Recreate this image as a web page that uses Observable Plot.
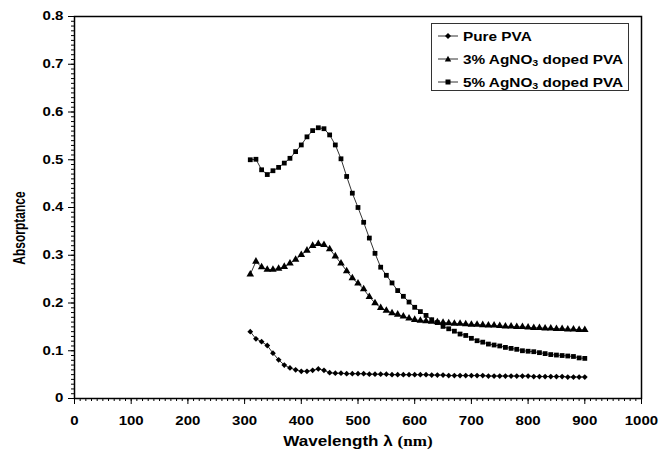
<!DOCTYPE html>
<html>
<head>
<meta charset="utf-8">
<script src="https://cdn.jsdelivr.net/npm/d3@7"></script>
<script src="https://cdn.jsdelivr.net/npm/@observablehq/plot@0.6"></script>
<style>
  html, body { margin: 0; padding: 0; background: #fff; }
  #wrap { position: relative; width: 662px; height: 455px; font-family: "Liberation Sans", Arial, sans-serif; color: #000; }
  #xtitle { position: absolute; left: 358px; top: 441px; font-size: 14px; font-weight: bold; white-space: nowrap;
            transform: translate(-50%, -50%) scaleX(1.22); }
  #xtitle .serif { font-family: "Liberation Serif", "Times New Roman", serif; }
  #ytitle { position: absolute; left: 19px; top: 228px; font-size: 12px; font-weight: bold; white-space: nowrap;
            transform: translate(-50%, -50%) rotate(-90deg) scaleY(1.45); }
  #legend { position: absolute; left: 431px; top: 23px; width: 198px; height: 68px; box-sizing: border-box;
            border: 1px solid #333; background: #fff; }
  .row { position: absolute; left: 5px; height: 20px; display: flex; align-items: center; }
  .row svg { display: block; }
  .row .lab { font-size: 13px; font-weight: bold; margin-left: 4px; transform: scaleX(1.18); transform-origin: left center; white-space: nowrap; }
  .row sub { font-size: 9px; vertical-align: -2px; line-height: 0; }
</style>
</head>
<body>
<div id="wrap"></div>
<script>
// ---- data ----
const wavelength = [310,320,330,340,350,360,370,380,390,400,410,420,430,440,450,460,470,480,490,500,
  510,520,530,540,550,560,570,580,590,600,610,620,630,640,650,660,670,680,690,700,
  710,720,730,740,750,760,770,780,790,800,810,820,830,840,850,860,870,880,890,900];

const purePVA = [0.140,0.125,0.119,0.111,0.095,0.081,0.070,0.064,0.060,0.057,0.057,0.059,0.062,0.059,0.054,0.053,0.053,0.052,0.052,0.052,
  0.052,0.051,0.051,0.051,0.051,0.050,0.050,0.050,0.050,0.050,0.050,0.050,0.049,0.049,0.049,0.048,0.048,0.048,0.048,0.048,
  0.048,0.048,0.047,0.047,0.047,0.047,0.047,0.047,0.047,0.047,0.046,0.046,0.046,0.046,0.046,0.046,0.045,0.045,0.045,0.045];

const agno3_3 = [0.260,0.287,0.275,0.270,0.270,0.272,0.276,0.283,0.291,0.301,0.310,0.320,0.324,0.322,0.313,0.298,0.283,0.267,0.252,0.241,
  0.229,0.213,0.200,0.190,0.184,0.179,0.176,0.172,0.168,0.165,0.163,0.162,0.161,0.160,0.159,0.158,0.157,0.157,0.156,0.155,
  0.155,0.154,0.153,0.153,0.152,0.151,0.151,0.150,0.150,0.149,0.148,0.148,0.147,0.147,0.146,0.146,0.145,0.145,0.144,0.144];

const agno3_5 = [0.500,0.501,0.479,0.469,0.477,0.484,0.493,0.503,0.517,0.531,0.548,0.561,0.567,0.565,0.552,0.531,0.502,0.465,0.430,0.400,
  0.369,0.336,0.304,0.275,0.258,0.242,0.226,0.214,0.202,0.191,0.182,0.174,0.165,0.159,0.151,0.146,0.141,0.135,0.132,0.126,
  0.121,0.118,0.114,0.112,0.110,0.107,0.105,0.103,0.100,0.099,0.098,0.096,0.094,0.092,0.091,0.090,0.089,0.088,0.085,0.084];

const seriesNames = ["Pure PVA", "3% AgNO3 doped PVA", "5% AgNO3 doped PVA"];
const seriesSymbols = ["diamond2", "triangle", "square"];
const xMajorTicks = [0,100,200,300,400,500,600,700,800,900,1000];
const yMajorTicks = [0,0.1,0.2,0.3,0.4,0.5,0.6,0.7,0.8];
const yTickLabels = ["0","0.1","0.2","0.3","0.4","0.5","0.6","0.7","0.8"];
const xTitle = "Wavelength λ ";
const xTitleUnit = "(nm)";
const yTitle = "Absorptance";

// ---- build table ----
const seriesValues = [purePVA, agno3_3, agno3_5];
const table = seriesValues.map((vals, si) => wavelength.map((w, i) => ({w, a: vals[i], s: seriesNames[si]})));
const xMinorTicks = d3.range(0, 1001, 10);
const yMinorTicks = d3.range(0, 81, 1).map(d => d / 100);

const marks = [
  Plot.axisX(xMinorTicks, {tickSize: 3, tickFormat: () => "", label: null}),
  Plot.axisX(xMajorTicks, {tickSize: 6, tickPadding: 12, tickFormat: d => String(d), label: null}),
  Plot.axisY(yMinorTicks, {tickSize: 3, tickFormat: () => "", label: null}),
  Plot.axisY(yMajorTicks, {tickSize: 6, tickPadding: 5, tickFormat: d => yTickLabels[yMajorTicks.indexOf(d)], label: null}),
  Plot.frame({stroke: "#000", strokeWidth: 1.5})
];
table.forEach((rows) => {
  marks.push(Plot.line(rows, {x: "w", y: "a", stroke: "#333", strokeWidth: 1}));
});
table.forEach((rows, si) => {
  marks.push(Plot.dot(rows, {x: "w", y: "a", symbol: () => seriesSymbols[si], fill: "#000", stroke: "none",
    r: si === 0 ? 2.6 : si === 1 ? 2.8 : 2.7}));
});

const chart = Plot.plot({
  width: 662, height: 455,
  marginLeft: 74, marginRight: 21, marginTop: 16, marginBottom: 57,
  x: {domain: [0, 1000]},
  y: {domain: [0, 0.8]},
  symbol: {type: "identity"},
  style: {fontFamily: "'Liberation Sans', Arial, sans-serif", fontSize: "12px", fontWeight: "bold", color: "#000", background: "#fff", overflow: "visible"},
  marks
});

const wrap = document.getElementById("wrap");
wrap.appendChild(chart);

// horizontally stretch tick labels (the reference's text is wide), around each label's anchor
const SVGNS = "http://www.w3.org/2000/svg";
chart.querySelectorAll('text').forEach(t => {
  if (!t.textContent) return;
  const g = document.createElementNS(SVGNS, "g");
  t.parentNode.insertBefore(g, t);
  g.appendChild(t);
  const b = g.getBBox();
  const anchor = t.getAttribute("text-anchor") || (t.parentNode.parentNode && t.parentNode.parentNode.getAttribute("text-anchor")) || "";
  let ox;
  if (anchor === "end") ox = b.x + b.width;
  else if (anchor === "start") ox = b.x;
  else ox = b.x + b.width / 2;
  const s = 1.25;
  g.setAttribute("transform", `translate(${ox},0) scale(${s},1) translate(${-ox},0)`);
});

// titles
const xt = document.createElement("div");
xt.id = "xtitle";
xt.innerHTML = `${xTitle}<span class="serif">${xTitleUnit}</span>`;
wrap.appendChild(xt);
const yt = document.createElement("div");
yt.id = "ytitle";
yt.textContent = yTitle;
wrap.appendChild(yt);

// legend
const legend = document.createElement("div");
legend.id = "legend";
const symbolPaths = {
  diamond2: "M11,7 L14,10 L11,13 L8,10 Z",
  triangle: "M11,6.8 L14.2,12.4 L7.8,12.4 Z",
  square: "M8.5,7.5 L13.5,7.5 L13.5,12.5 L8.5,12.5 Z"
};
seriesNames.forEach((name, i) => {
  const row = document.createElement("div");
  row.className = "row";
  row.style.top = (2 + i * 23) + "px";
  const label = name.replace("AgNO3", "AgNO<sub>3</sub>");
  row.innerHTML = `<svg width="22" height="20"><line x1="1" y1="10" x2="21" y2="10" stroke="#333" stroke-width="1"/><path d="${symbolPaths[seriesSymbols[i]]}" fill="#000"/></svg><span class="lab">${label}</span>`;
  legend.appendChild(row);
});
wrap.appendChild(legend);
</script>
</body>
</html>
